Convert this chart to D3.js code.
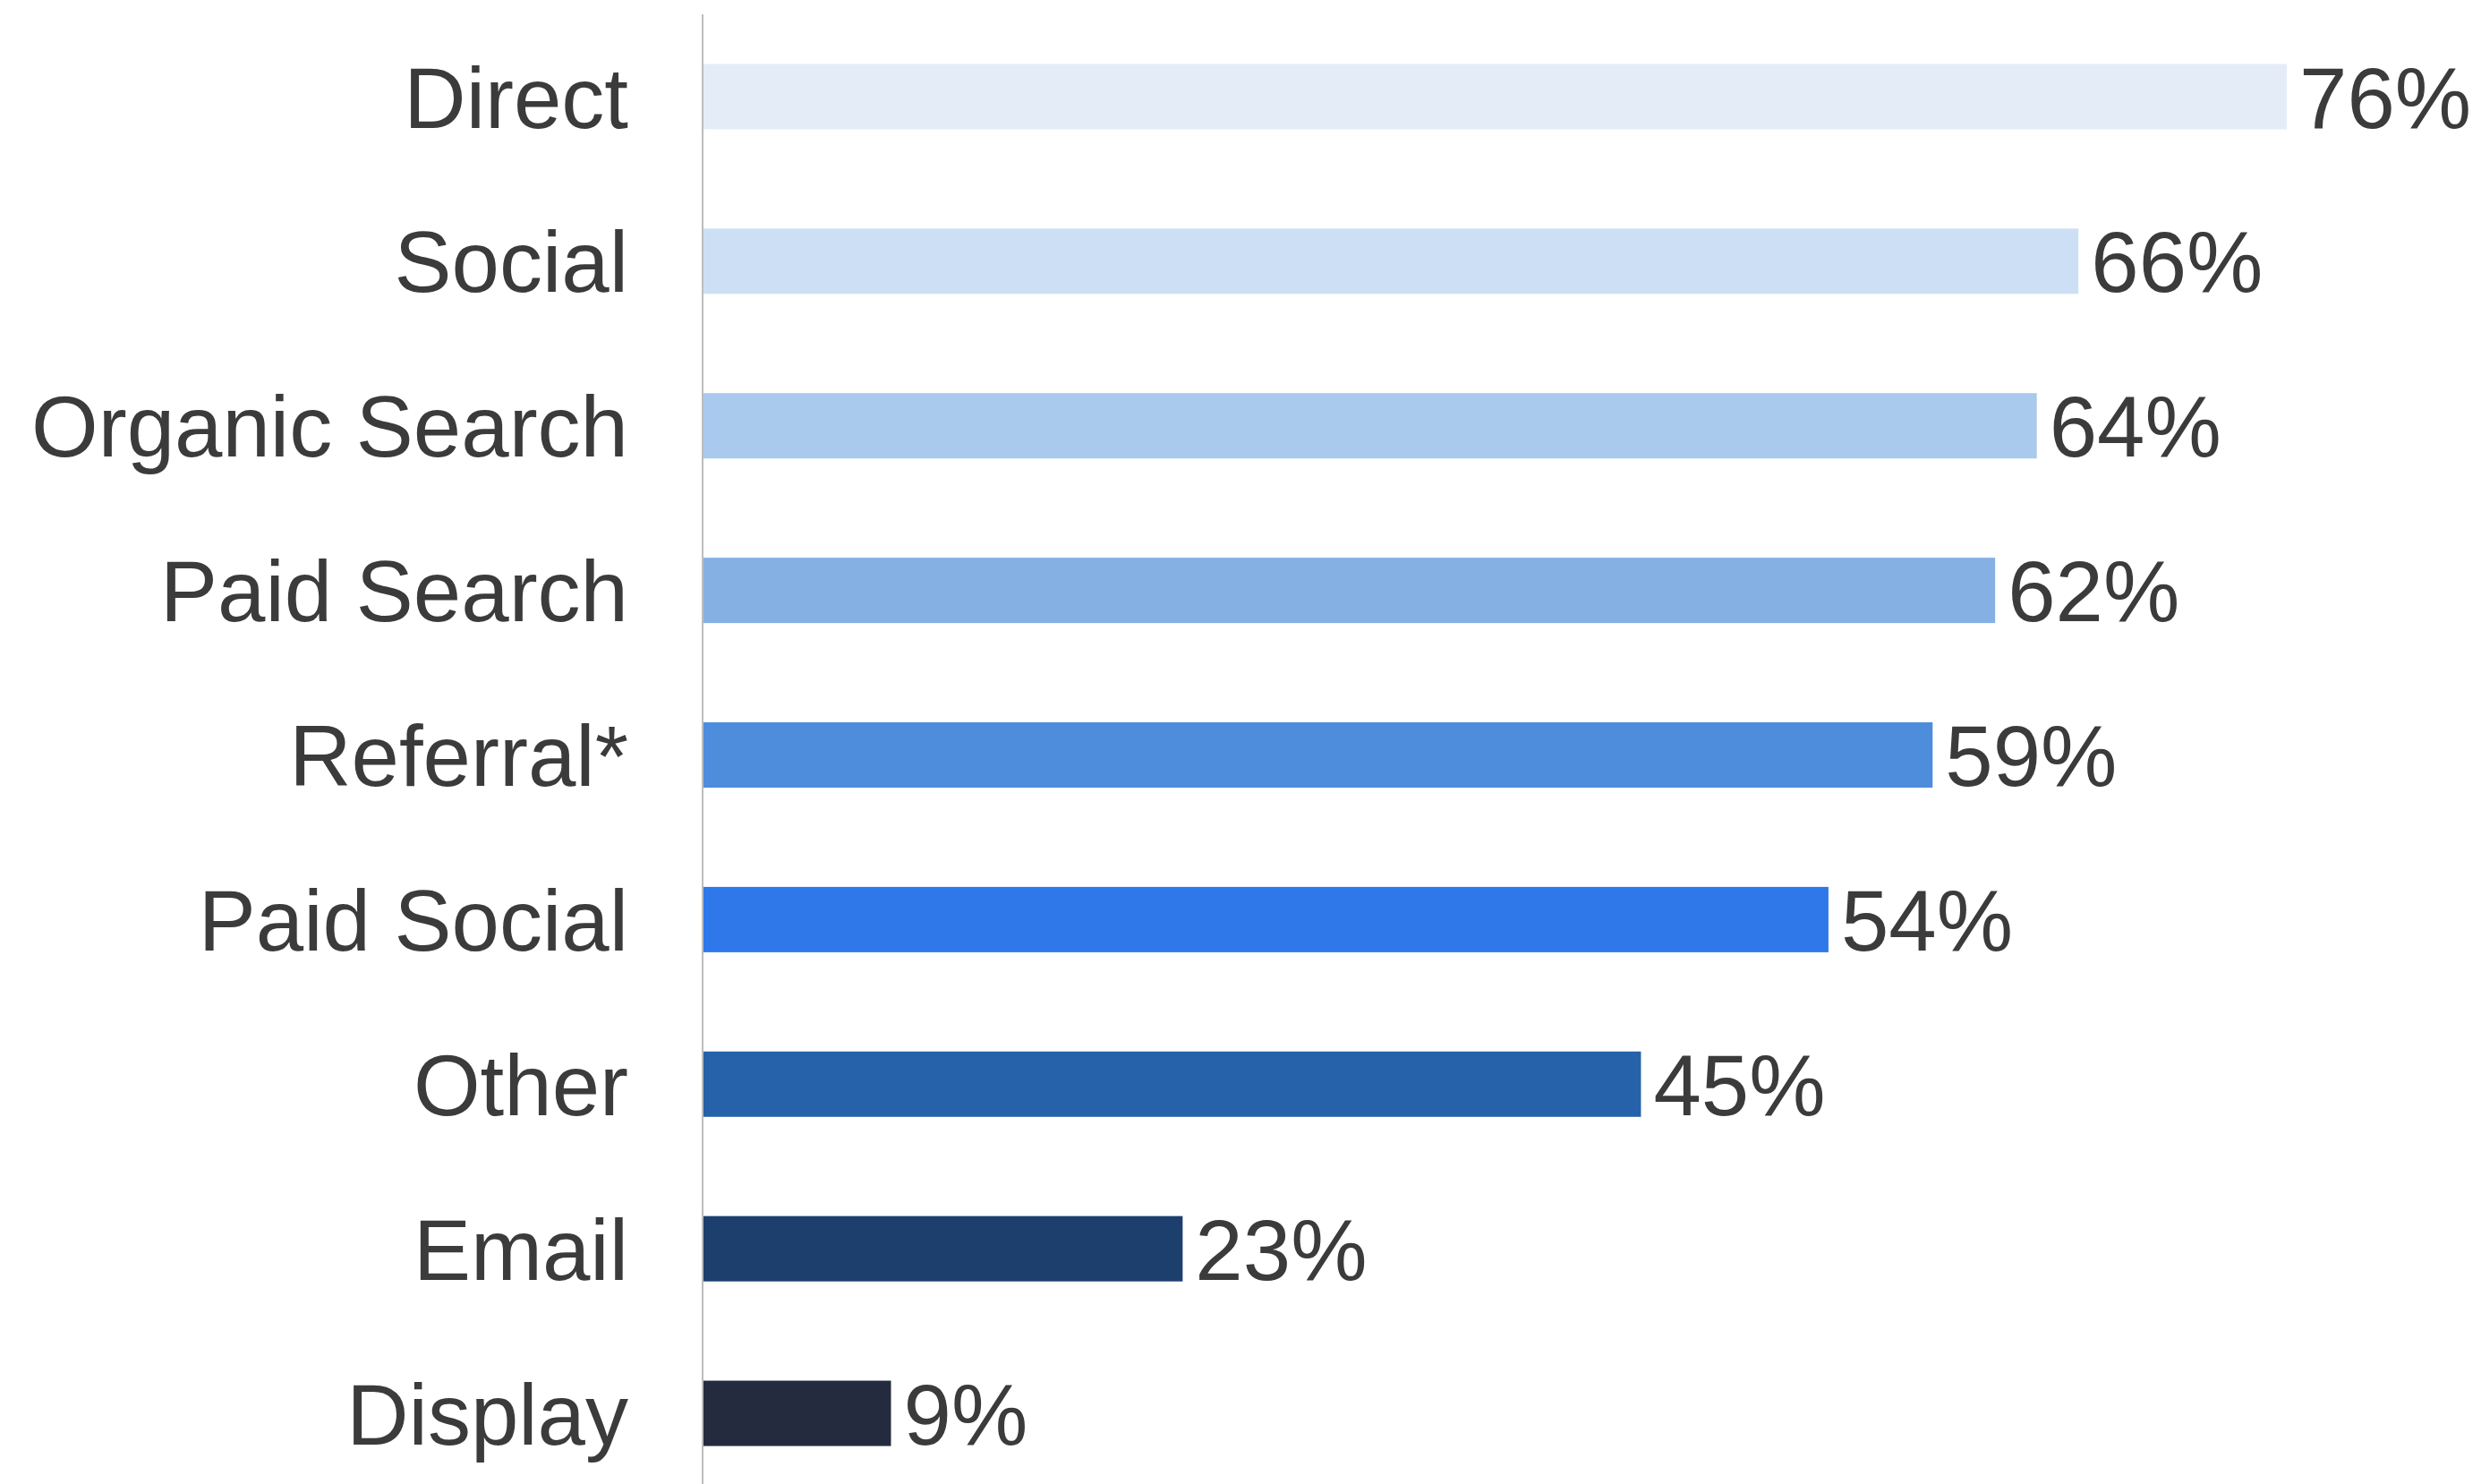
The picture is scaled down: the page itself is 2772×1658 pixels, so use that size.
<!DOCTYPE html>
<html>
<head>
<meta charset="utf-8">
<script src="https://cdn.jsdelivr.net/npm/d3@7"></script>
<style>
  html, body { margin: 0; padding: 0; background: #ffffff; }
  svg { display: block; }
</style>
</head>
<body>
<svg id="chart"></svg>
<script>
// Share of traffic by channel
const categories = ["Direct", "Social", "Organic Search", "Paid Search", "Referral*", "Paid Social", "Other", "Email", "Display"];
const values = [76, 66, 64, 62, 59, 54, 45, 23, 9];
const valueLabels = ["76%", "66%", "64%", "62%", "59%", "54%", "45%", "23%", "9%"];
const barColors = ["#e4ecf7", "#cddff5", "#a9c9ed", "#85b0e4", "#4e8cdc", "#2f78ea", "#2662a9", "#1c3f6e", "#252b3f"];

const W = 2772, H = 1658;
const svg = d3.select("#chart").attr("width", W).attr("height", H);

const axisX = 786;
const x = d3.scaleLinear().domain([0, 76]).range([axisX, 2555]);
const y = d3.scaleBand()
  .domain(categories)
  .range([16, 1671])
  .paddingInner(0.603)
  .paddingOuter(0.3015);

const color = d3.scaleOrdinal().domain(categories).range(barColors);
const font = "'Liberation Sans', Arial, Helvetica, sans-serif";
const textColor = "#3b3b3b";

// Bars
svg.append("g")
  .selectAll("rect")
  .data(categories)
  .join("rect")
  .attr("x", x(0))
  .attr("y", d => y(d))
  .attr("width", (d, i) => x(values[i]) - x(0))
  .attr("height", y.bandwidth())
  .attr("fill", d => color(d));

// Vertical category axis line
svg.append("line")
  .attr("x1", axisX - 1).attr("x2", axisX - 1)
  .attr("y1", 16).attr("y2", H)
  .attr("stroke", "#bdbdbd")
  .attr("stroke-width", 2);

// Category labels
svg.append("g")
  .selectAll("text")
  .data(categories)
  .join("text")
  .attr("x", 702)
  .attr("y", d => y(d) + y.bandwidth() / 2)
  .attr("dy", "0.36em")
  .attr("text-anchor", "end")
  .attr("font-family", font)
  .attr("font-size", 96)
  .attr("fill", textColor)
  .text(d => d);

// Value labels
svg.append("g")
  .selectAll("text")
  .data(categories)
  .join("text")
  .attr("x", (d, i) => x(values[i]) + 14)
  .attr("y", d => y(d) + y.bandwidth() / 2)
  .attr("dy", "0.36em")
  .attr("text-anchor", "start")
  .attr("font-family", font)
  .attr("font-size", 96)
  .attr("fill", textColor)
  .text((d, i) => valueLabels[i]);
</script>
</body>
</html>
